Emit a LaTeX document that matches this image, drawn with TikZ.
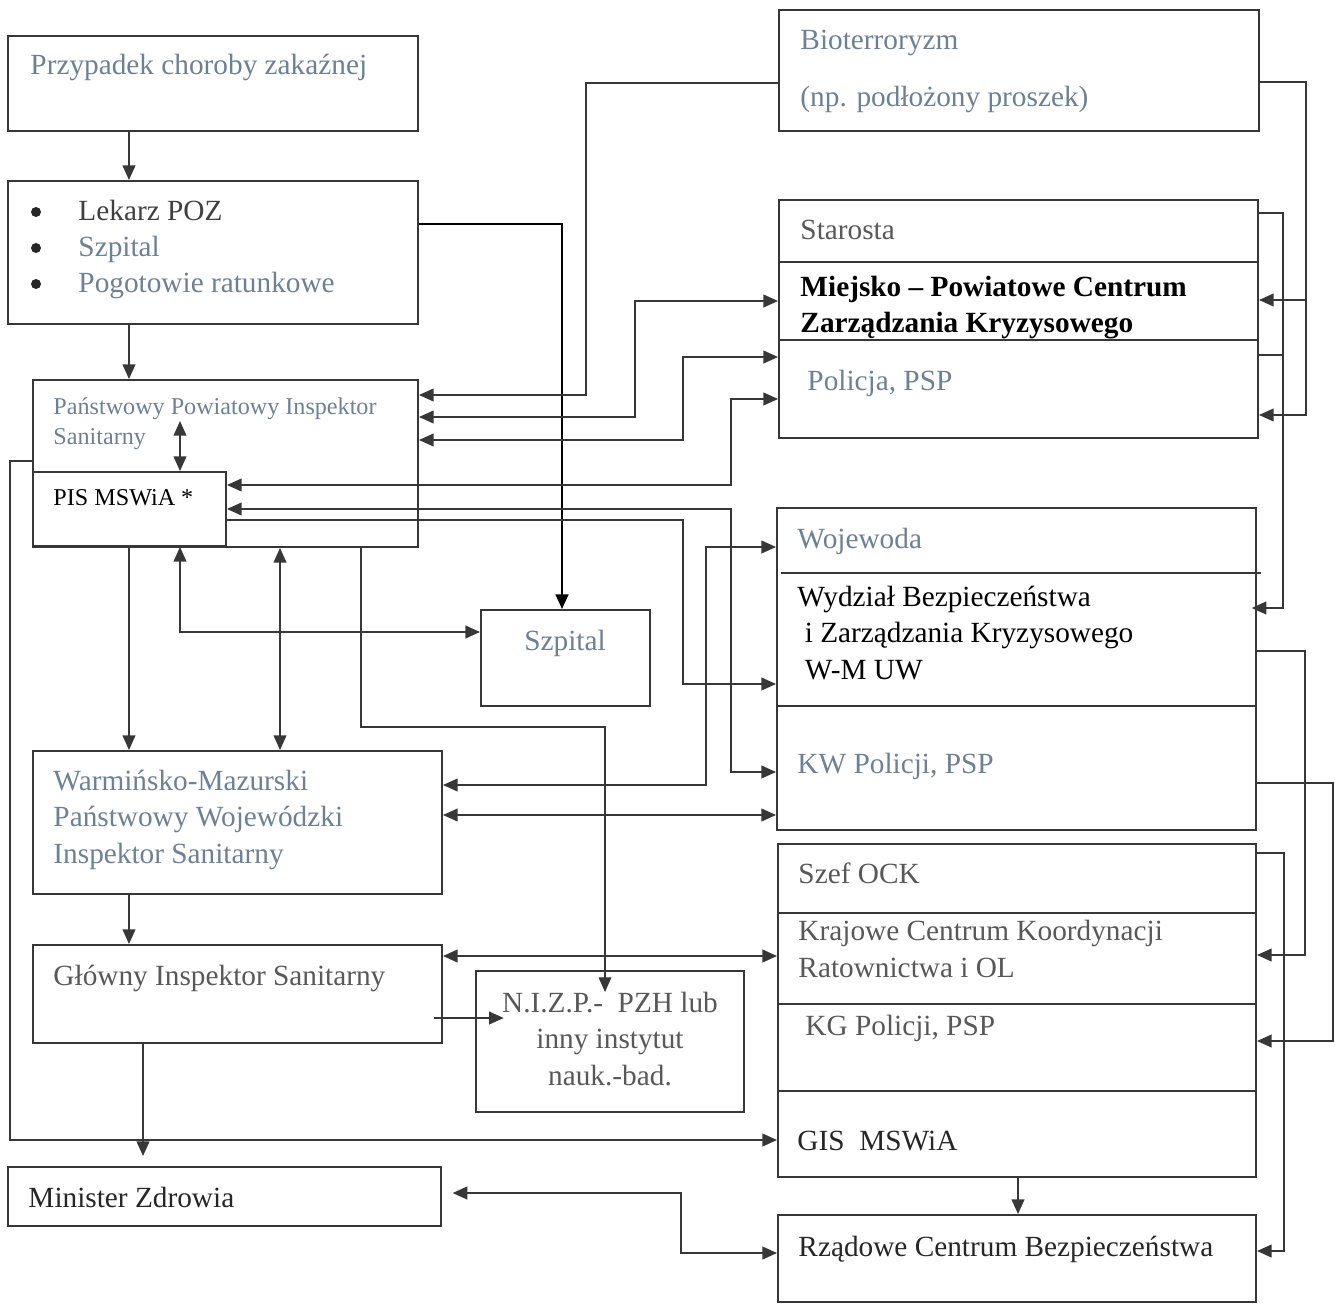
\documentclass[tikz,border=0pt]{standalone}
\usepackage{fontspec}
\setmainfont{Liberation Serif}
\usepackage{tikz}
\usetikzlibrary{arrows.meta,fit,calc}

\definecolor{slate}{RGB}{108,128,150}
\definecolor{greytxt}{RGB}{88,88,88}
\definecolor{linec}{RGB}{55,55,55}

\tikzset{
  box/.style={draw=linec,line width=0.8pt,inner sep=0pt},
  txt/.style={anchor=base west,inner sep=0pt,align=left,
    font=\fontsize{12.5}{15.5}\selectfont},
  smalltxt/.style={txt,font=\fontsize{10.3}{12.8}\selectfont},
  arr/.style={draw=linec,line width=0.8pt,-{Triangle[length=0.22cm,width=0.19cm]}},
  darr/.style={draw=linec,line width=0.8pt,
    {Triangle[length=0.22cm,width=0.19cm]}-{Triangle[length=0.22cm,width=0.19cm]}},
  divline/.style={draw=linec,line width=0.8pt}
}

\begin{document}
\begin{tikzpicture}[x=0.015cm,y=-0.015cm]
  \useasboundingbox (0,0) rectangle (1335,1304);
  % Left column boxes
  \node[box,fit={(8,36) (418,131)}] (przyp) {};
  \node[box,fit={(8,181) (418,324)}] (lekarz) {};
  \node[box,fit={(33,380) (418,547)}] (ppis) {};
  \node[box,fit={(33,472) (226,546)}] (pis) {};
  \node[box,fit={(481,610) (650,706)}] (szpit) {};
  \node[box,fit={(33,751) (442,894)}] (warm) {};
  \node[box,fit={(33,945) (442,1043)}] (glowny) {};
  \node[box,fit={(476,971) (744,1112)}] (nizp) {};
  \node[box,fit={(8,1167) (441,1226)}] (minzdr) {};
  % Right column boxes
  \node[box,fit={(779,10) (1259,131)}] (bio) {};
  \node[box,fit={(779,200) (1258,438)}] (star) {};
  \node[box,fit={(777,508) (1256,830)}] (woj) {};
  \node[box,fit={(778,844) (1256,1177)}] (ock) {};
  \node[box,fit={(778,1215) (1256,1302)}] (rcb) {};
  % Dividers
  \draw[divline] (star.west |- 0,262) -- (star.east |- 0,262);
  \draw[divline] (star.west |- 0,340) -- (star.east |- 0,340);
  \draw[divline] (781,573) -- (1261,573);
  \draw[divline] (woj.west |- 0,706) -- (woj.east |- 0,706);
  \draw[divline] (ock.west |- 0,913) -- (ock.east |- 0,913);
  \draw[divline] (ock.west |- 0,1004) -- (ock.east |- 0,1004);
  \draw[divline] (ock.west |- 0,1091) -- (ock.east |- 0,1091);

  % Bullets
  \foreach \by in {212,248,284}
    \fill[black!85] (36,\by) circle (0.075cm);

  % Texts (multi-line ones sit on their last baseline)
  \node[txt,text=slate] at (30,75) {Przypadek choroby zakaźnej};
  \node[txt,text=black!75] at (78,221) {Lekarz POZ};
  \node[txt,text=slate] at (78,257) {Szpital};
  \node[txt,text=slate] at (78,293) {Pogotowie ratunkowe};
  \node[smalltxt,text=slate] at (53,444) {Państwowy Powiatowy Inspektor\\Sanitarny};
  \node[smalltxt,text=black] at (53,505) {PIS MSWiA *};
  \node[txt,text=slate,anchor=base] at (565,650) {Szpital};
  \node[txt,text=slate] at (53,863) {Warmińsko-Mazurski\\Państwowy Wojewódzki\\Inspektor Sanitarny};
  \node[txt,text=greytxt] at (53,985) {Główny Inspektor Sanitarny};
  \node[txt,text=greytxt,anchor=base,align=center] at (610,1085)
    {N.I.Z.P.-\ \ PZH lub\\inny instytut\\nauk.-bad.};
  \node[txt,text=black!85] at (28,1207) {Minister Zdrowia};
  \node[txt,text=slate] at (800,50) {Bioterroryzm};
  \node[txt,text=slate] at (800,107) {(np. podłożony proszek)};
  \node[txt,text=greytxt] at (800,240) {Starosta};
  \node[txt,text=black,font=\fontsize{12.5}{15.5}\selectfont\bfseries] at (800,333)
    {Miejsko -- Powiatowe Centrum\\Zarządzania Kryzysowego};
  \node[txt,text=slate] at (807,390) {Policja, PSP};
  \node[txt,text=slate] at (797,548) {Wojewoda};
  \node[txt,text=black] at (797,679) {Wydział Bezpieczeństwa\\\ i Zarządzania Kryzysowego\\\ W-M UW};
  \node[txt,text=slate] at (797,773) {KW Policji, PSP};
  \node[txt,text=greytxt] at (798,883) {Szef OCK};
  \node[txt,text=greytxt] at (798,977) {Krajowe Centrum Koordynacji\\Ratownictwa i OL};
  \node[txt,text=greytxt] at (805,1035) {KG Policji, PSP};
  \node[txt,text=black!85] at (797,1150) {GIS\ \ MSWiA};
  \node[txt,text=black!85] at (798,1256) {Rządowe Centrum Bezpieczeństwa};

  % Connectors, left part
  \draw[arr] (przyp.south -| 129,0) -- (lekarz.north -| 129,0);
  \draw[arr] (lekarz.south -| 129,0) -- (ppis.north -| 129,0);
  \draw[arr,draw=black,line width=1pt] (lekarz.east |- 0,224) -| (szpit.north -| 562,0);
  \draw[darr] (180,421) -- (pis.north -| 180,0);
  \draw[arr] (pis.south -| 129,0) -- (warm.north -| 129,0);
  \draw[darr] (pis.south -| 180,0) |- (szpit.west |- 0,632);
  \draw[darr] (ppis.south -| 280,0) -- (warm.north -| 280,0);
  \draw[arr,line width=0.5pt,shorten >=-0.33cm] (ppis.south -| 361,0) |- (605,727)
    -- (nizp.north -| 605,0);
  \draw[arr] (warm.south -| 129,0) -- (glowny.north -| 129,0);
  \draw[arr,shorten <=-0.13cm,shorten >=-0.43cm] (glowny.east |- 0,1018) -- (nizp.west |- 0,1018);
  \draw[arr,shorten >=0.15cm] (glowny.south -| 143,0) -- (minzdr.north -| 143,0);
  \draw[arr] (ppis.west |- 0,461) -| (10,1140) -- (ock.west |- 0,1140);
  \draw[darr,shorten <=0.16cm] (minzdr.east |- 0,1193) -- (681,1193) |- (rcb.west |- 0,1253);
  % Connectors to the right column
  \draw[arr] (bio.west |- 0,83) -| (586,395) -- (ppis.east |- 0,395);
  \draw[darr] (ppis.east |- 0,417) -| (635,301) -- (star.west |- 0,301);
  \draw[darr] (ppis.east |- 0,440) -| (683,357) -- (star.west |- 0,357);
  \draw[darr] (pis.east |- 0,485) -| (731,399) -- (star.west |- 0,399);
  \draw[darr] (pis.east |- 0,509) -| (731,772) -- (woj.west |- 0,772);
  \draw[arr] (pis.east |- 0,520) -| (683,684) -- (woj.west |- 0,684);
  \draw[darr] (warm.east |- 0,785) -| (706,547) -- (woj.west |- 0,547);
  \draw[darr] (warm.east |- 0,815) -- (woj.west |- 0,815);
  \draw[darr] (glowny.east |- 0,956) -- (ock.west |- 0,956);
  \draw[arr] (ock.south -| 1018,0) -- (rcb.north -| 1018,0);
  % Right side loops
  \coordinate (biojoin) at (1306,300);
  \draw[arr] (bio.east |- 0,82) -| (1306,415) -- (star.east |- 0,415);
  \draw[arr] (biojoin) -- (star.east |- 0,300);
  \coordinate (starjoin) at (1283,355);
  \draw[arr,shorten >=-0.08cm] (star.east |- 0,213) -| (1283,608) -- (woj.east |- 0,608);
  \draw[divline] (star.east |- 0,355) -- (starjoin);
  \draw[arr] (woj.east |- 0,651) -| (1305,955) -- (ock.east |- 0,955);
  \draw[arr] (woj.east |- 0,783) -| (1333,1041) -- (ock.east |- 0,1041);
  \draw[arr] (ock.east |- 0,853) -| (1284,1251) -- (rcb.east |- 0,1251);
\end{tikzpicture}
\end{document}
